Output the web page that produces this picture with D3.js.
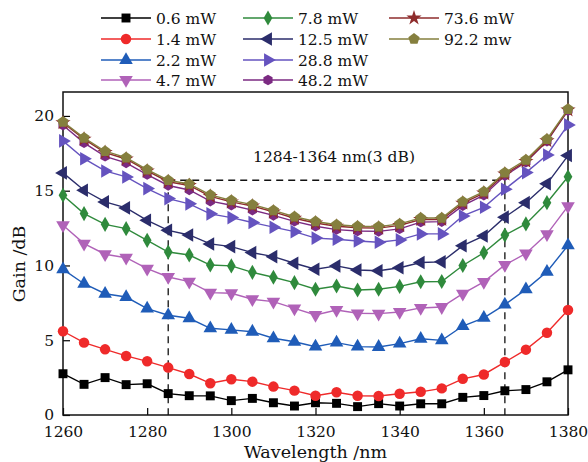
<!DOCTYPE html>
<html>
<head>
<meta charset="utf-8">
<script src="https://cdn.jsdelivr.net/npm/d3@7"></script>
<style>
  body { margin: 0; background: #fff; }
  text { font-family: "DejaVu Serif", serif; }
</style>
</head>
<body>
<svg id="chart" width="588" height="462"></svg>
<script>
// wavelength samples, one marker every 5 nm
var wavelengths = d3.range(1260, 1381, 5)

var powers = ["0.6 mW", "1.4 mW", "2.2 mW", "4.7 mW", "7.8 mW", "12.5 mW", "28.8 mW", "48.2 mW", "73.6 mW", "92.2 mw"]

var gain06 = [2.76, 2.05, 2.5, 2.03, 2.09, 1.43, 1.29, 1.28, 0.96, 1.11, 0.82, 0.6, 0.82, 0.78, 0.56, 0.76, 0.6, 0.75, 0.75, 1.18, 1.3, 1.62, 1.7, 2.22, 3.02]
var gain14 = [5.6, 4.84, 4.39, 3.95, 3.59, 3.17, 2.74, 2.12, 2.39, 2.23, 1.9, 1.63, 1.29, 1.52, 1.29, 1.27, 1.42, 1.55, 1.78, 2.42, 2.71, 3.54, 4.37, 5.5, 7.02]
var gain22 = [9.74, 8.78, 8.11, 7.89, 7.11, 6.67, 6.47, 5.8, 5.69, 5.57, 5.13, 4.9, 4.57, 4.84, 4.57, 4.55, 4.77, 5.1, 4.99, 5.95, 6.49, 7.38, 8.4, 9.58, 11.34]
var gain47 = [12.69, 11.46, 10.75, 10.52, 9.79, 9.23, 8.92, 8.18, 8.14, 7.74, 7.58, 7.13, 6.69, 7.02, 6.8, 6.78, 6.89, 7.16, 7.22, 8.12, 8.9, 10.04, 10.8, 12.1, 13.97]
var gain78 = [14.7, 13.47, 12.75, 12.46, 11.68, 10.9, 10.7, 10.03, 9.97, 9.54, 9.21, 8.85, 8.41, 8.63, 8.36, 8.41, 8.6, 8.91, 8.93, 10.0, 10.85, 12.03, 12.78, 14.2, 15.93]
var gain125 = [16.19, 15.03, 14.25, 13.85, 13.02, 12.35, 12.04, 11.44, 11.26, 10.86, 10.59, 10.15, 9.75, 9.97, 9.7, 9.65, 9.85, 10.2, 10.24, 11.32, 11.97, 13.23, 14.2, 15.46, 17.35]
var gain288 = [18.33, 17.14, 16.32, 15.92, 15.14, 14.47, 14.12, 13.45, 13.2, 12.87, 12.56, 12.26, 11.83, 11.75, 11.64, 11.55, 11.71, 12.11, 12.11, 13.31, 13.89, 15.1, 16.21, 17.39, 19.4]
var gain482 = [19.38, 18.2, 17.3, 16.86, 16.08, 15.35, 15.05, 14.3, 14.03, 13.7, 13.35, 12.95, 12.62, 12.4, 12.3, 12.28, 12.45, 12.9, 12.93, 14.0, 14.7, 16.0, 16.9, 18.3, 20.35]
var gain736 = [19.55, 18.45, 17.55, 17.12, 16.32, 15.6, 15.35, 14.62, 14.25, 13.97, 13.58, 13.16, 12.84, 12.62, 12.52, 12.5, 12.68, 13.07, 13.07, 14.17, 14.84, 16.11, 16.96, 18.34, 20.4]
var gain922 = [19.6, 18.53, 17.64, 17.21, 16.41, 15.7, 15.45, 14.72, 14.35, 14.07, 13.68, 13.26, 12.94, 12.72, 12.62, 12.6, 12.78, 13.17, 13.17, 14.27, 14.94, 16.21, 17.06, 18.44, 20.45]

var xTicks = [1260, 1280, 1300, 1320, 1340, 1360, 1380]
var yTicks = [0, 5, 10, 15, 20]

// 3 dB band
var bandEdges = [1285, 1365]
var bandLevel = 15.7
var bandLabel = "1284-1364 nm(3 dB)"

var allGains = [gain06, gain14, gain22, gain47, gain78, gain125, gain288, gain482, gain736, gain922]
var colors = ["#000000", "#ef2a2a", "#1f5cb8", "#b062b8", "#2f8a3c", "#2b2d6b", "#6553bf", "#7b2a82", "#8e2c2c", "#857f3e"]

// custom polygon marker (hexagon / pentagon)
function polygon(n, rot) {
  return {
    draw: function(context, size) {
      var r = Math.sqrt(size / (0.5 * n * Math.sin(2 * Math.PI / n)))
      for (var i = 0; i < n; i++) {
        var a = rot + i * 2 * Math.PI / n
        var px = r * Math.sin(a), py = -r * Math.cos(a)
        if (i == 0) context.moveTo(px, py); else context.lineTo(px, py)
      }
      context.closePath()
    }
  }
}

var markers = [
  {type: d3.symbolSquare, size: 80, rotate: 0},
  {type: d3.symbolCircle, size: 86, rotate: 0},
  {type: d3.symbolTriangle, size: 80, rotate: 0},
  {type: d3.symbolTriangle, size: 80, rotate: 180},
  {type: d3.symbolDiamond, size: 66, rotate: 0},
  {type: d3.symbolTriangle, size: 80, rotate: -90},
  {type: d3.symbolTriangle, size: 80, rotate: 90},
  {type: polygon(6, 0), size: 72, rotate: 0},
  {type: d3.symbolStar, size: 72, rotate: 0},
  {type: polygon(5, 0), size: 84, rotate: 0}
]

var margin = {top: 92, right: 20, bottom: 47, left: 63}
var width = 588, height = 462

var svg = d3.select("#chart")

var x = d3.scaleLinear().domain([1260, 1380]).range([margin.left, width - margin.right])
var y = d3.scaleLinear().domain([0, 21.6]).range([height - margin.bottom, margin.top])

// axes, ticks pointing inward
svg.append("g")
  .attr("transform", "translate(0," + y(0) + ")")
  .call(d3.axisBottom(x).tickValues(xTicks).tickSize(-7).tickPadding(11).tickFormat(d3.format("d")))
  .call(function(g){ g.select(".domain").remove() })
  .call(function(g){ g.selectAll("line").attr("stroke-width", 1.2) })
  .call(function(g){ g.selectAll("text").attr("font-size", 15.5).attr("fill", "#111").attr("font-family", "DejaVu Serif") })

svg.append("g")
  .attr("transform", "translate(" + x(1260) + ",0)")
  .call(d3.axisLeft(y).tickValues(yTicks).tickSize(-7).tickPadding(9))
  .call(function(g){ g.select(".domain").remove() })
  .call(function(g){ g.selectAll("line").attr("stroke-width", 1.2) })
  .call(function(g){ g.selectAll("text").attr("font-size", 15.5).attr("fill", "#111").attr("font-family", "DejaVu Serif") })

svg.append("rect")
  .attr("x", x(1260)).attr("y", margin.top)
  .attr("width", x(1380) - x(1260)).attr("height", y(0) - margin.top)
  .attr("fill", "none").attr("stroke", "#111").attr("stroke-width", 1.5)

// dashed 3 dB markers
var dash = svg.append("g").attr("stroke", "#111").attr("stroke-width", 1.3).attr("stroke-dasharray", "7,5").attr("fill", "none")
bandEdges.forEach(function(b){
  dash.append("line").attr("x1", x(b)).attr("x2", x(b)).attr("y1", y(bandLevel)).attr("y2", y(0))
})
dash.append("line").attr("x1", x(bandEdges[0])).attr("x2", x(bandEdges[1])).attr("y1", y(bandLevel)).attr("y2", y(bandLevel))

svg.append("text")
  .attr("x", x(1324.4)).attr("y", y(16.95))
  .attr("text-anchor", "middle").attr("font-size", 15.5).attr("fill", "#111")
  .text(bandLabel)

// series
var line = d3.line()
  .x(function(d){ return x(d[0]) })
  .y(function(d){ return y(d[1]) })

allGains.forEach(function(gains, i){
  var pts = wavelengths.map(function(w, j){ return [w, gains[j]] })
  var g = svg.append("g")
  g.append("path").datum(pts)
    .attr("d", line).attr("fill", "none")
    .attr("stroke", colors[i]).attr("stroke-width", 1.4)
  g.selectAll("path.pt").data(pts).enter().append("path")
    .attr("class", "pt")
    .attr("d", d3.symbol().type(markers[i].type).size(markers[i].size))
    .attr("transform", function(d){ return "translate(" + x(d[0]) + "," + y(d[1]) + ") rotate(" + markers[i].rotate + ")" })
    .attr("fill", colors[i])
})

// legend, three columns above the plot
var legendCols = [101, 243, 389]
var rowY = [18, 39, 60, 80]
powers.forEach(function(p, i){
  var col = Math.floor(i / 4), row = i % 4
  var lx = legendCols[col], ly = rowY[row]
  var lg = svg.append("g")
  lg.append("line").attr("x1", lx).attr("x2", lx + 50).attr("y1", ly).attr("y2", ly)
    .attr("stroke", colors[i]).attr("stroke-width", 1.4)
  lg.append("path")
    .attr("d", d3.symbol().type(markers[i].type).size(markers[i].size))
    .attr("transform", "translate(" + (lx + 25) + "," + ly + ") rotate(" + markers[i].rotate + ")")
    .attr("fill", colors[i])
  lg.append("text").attr("x", lx + 55).attr("y", ly + 5.5)
    .attr("font-size", 15.5).attr("fill", "#111").text(p)
})

// axis titles
svg.append("text")
  .attr("x", x(1320)).attr("y", 458)
  .attr("text-anchor", "middle").attr("font-size", 17.5).attr("fill", "#111")
  .text("Wavelength /nm")

svg.append("text")
  .attr("transform", "translate(25," + y(10.1) + ") rotate(-90)")
  .attr("text-anchor", "middle").attr("font-size", 17.5).attr("fill", "#111")
  .text("Gain /dB")
</script>
</body>
</html>
